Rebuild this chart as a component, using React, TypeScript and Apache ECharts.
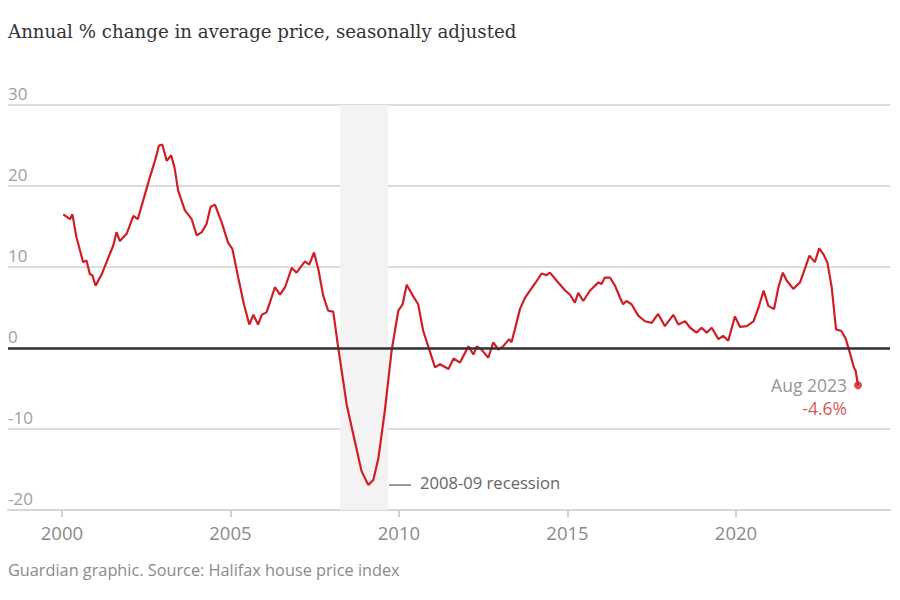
import React, { useEffect, useRef } from "react";
import * as echarts from "echarts";

const years = [
  2000.04, 2000.24, 2000.31, 2000.43, 2000.63, 2000.73, 2000.83, 2000.9, 2001.0, 2001.18,
  2001.42, 2001.52, 2001.62, 2001.72, 2001.92, 2002.12, 2002.25, 2002.41, 2002.61, 2002.76,
  2002.88, 2002.98, 2003.11, 2003.24, 2003.34, 2003.45, 2003.65, 2003.85, 2004.0, 2004.15,
  2004.29, 2004.41, 2004.54, 2004.74, 2004.93, 2005.06, 2005.23, 2005.4, 2005.56, 2005.68,
  2005.82, 2005.93, 2006.07, 2006.17, 2006.32, 2006.47, 2006.62, 2006.82, 2006.96, 2007.21,
  2007.34, 2007.48, 2007.61, 2007.75, 2007.9, 2008.05, 2008.2, 2008.45, 2008.69, 2008.89,
  2009.09, 2009.24, 2009.39, 2009.58, 2009.78, 2009.98, 2010.11, 2010.23, 2010.42, 2010.57,
  2010.72, 2010.87, 2011.07, 2011.22, 2011.47, 2011.62, 2011.81, 2012.06, 2012.21, 2012.31,
  2012.45, 2012.65, 2012.8, 2012.95, 2013.09, 2013.27, 2013.34, 2013.44, 2013.59, 2013.74,
  2013.89, 2014.09, 2014.23, 2014.38, 2014.48, 2014.68, 2014.93, 2015.07, 2015.22, 2015.32,
  2015.47, 2015.67, 2015.82, 2015.92, 2016.01, 2016.11, 2016.26, 2016.41, 2016.56, 2016.65,
  2016.75, 2016.9, 2017.1, 2017.3, 2017.5, 2017.69, 2017.89, 2018.14, 2018.29, 2018.49,
  2018.64, 2018.83, 2018.98, 2019.13, 2019.28, 2019.48, 2019.62, 2019.77, 2019.97, 2020.12,
  2020.32, 2020.52, 2020.67, 2020.82, 2020.96, 2021.13, 2021.26, 2021.39, 2021.51, 2021.7,
  2021.9, 2022.02, 2022.18, 2022.34, 2022.47, 2022.59, 2022.71, 2022.84, 2022.97, 2023.13,
  2023.26, 2023.38, 2023.5, 2023.55, 2023.62,
];

const values = [
  16.5, 15.9, 16.5, 13.7, 10.6, 10.8, 9.1, 9.0, 7.7, 9.1,
  11.6, 12.6, 14.3, 13.2, 14.1, 16.3, 15.9, 18.2, 21.1, 23.1,
  25.0, 25.1, 23.1, 23.8, 22.3, 19.4, 17.0, 15.9, 13.9, 14.3,
  15.3, 17.4, 17.7, 15.5, 13.0, 12.2, 8.7, 5.4, 2.9, 4.1,
  2.9, 4.1, 4.4, 5.6, 7.5, 6.6, 7.5, 9.9, 9.3, 10.7,
  10.3, 11.8, 9.7, 6.5, 4.6, 4.5, 0.0, -7.0, -11.5, -15.2,
  -16.9, -16.3, -13.6, -7.8, -0.4, 4.6, 5.4, 7.8, 6.4, 5.4,
  2.1, 0.2, -2.4, -2.0, -2.6, -1.3, -1.8, 0.2, -0.8, 0.2,
  -0.2, -1.2, 0.7, -0.2, 0.2, 1.1, 0.7, 2.3, 4.8, 6.2,
  7.1, 8.3, 9.2, 9.0, 9.3, 8.3, 7.1, 6.6, 5.6, 6.8,
  5.8, 7.1, 7.7, 8.1, 7.9, 8.7, 8.7, 7.7, 6.2, 5.4,
  5.8, 5.4, 4.0, 3.3, 3.1, 4.2, 2.7, 4.1, 2.9, 3.3,
  2.5, 1.9, 2.5, 1.9, 2.5, 1.1, 1.5, 0.9, 3.9, 2.6,
  2.7, 3.3, 5.0, 7.1, 5.2, 4.8, 7.5, 9.3, 8.3, 7.3,
  8.1, 9.5, 11.4, 10.6, 12.3, 11.6, 10.6, 7.5, 2.3, 2.1,
  1.1, -0.6, -2.4, -2.8, -4.6,
];

const xTickValues = [2000, 2005, 2010, 2015, 2020];
const recession = [2008.25, 2009.68];
const lastLabel = "Aug 2023";
const lastValueLabel = "-4.6%";

const RED = "#cf1f26";
const SANS = "'Open Sans', 'Noto Sans', sans-serif";
const SERIF = "'DejaVu Serif', serif";

export default function App() {
  const ref = useRef<HTMLDivElement>(null);

  useEffect(() => {
    document.body.style.margin = "0";
    if (!ref.current) return;
    const chart = echarts.init(ref.current, null, { renderer: "svg" });
    const data = years.map((y, i) => [y, values[i]]);
    const last = data[data.length - 1];

    chart.setOption({
      animation: false,
      backgroundColor: "#ffffff",
      grid: { left: 8, right: 10, top: 105, bottom: 90, containLabel: false },
      xAxis: {
        type: "value",
        min: 1998.4,
        max: 2024.57,
        splitLine: { show: false },
        axisLine: { show: true, onZero: false, lineStyle: { color: "#d6d6d6", width: 2 } },
        axisTick: {
          show: true,
          customValues: xTickValues,
          length: 7,
          lineStyle: { color: "#d0d0d0", width: 2 },
        },
        axisLabel: {
          customValues: xTickValues,
          color: "#8a8a8a",
          fontSize: 18.5,
          fontFamily: SANS,
          margin: 13,
          formatter: (v: number) => String(v),
        },
      },
      yAxis: {
        type: "value",
        min: -20,
        max: 30,
        interval: 10,
        axisLine: { show: false },
        axisTick: { show: false },
        splitLine: { lineStyle: { color: "#dcdcdc", width: 2 } },
        axisLabel: {
          inside: true,
          margin: 0,
          verticalAlign: "bottom",
          padding: [0, 0, 3, 0],
          color: "#a0a0a0",
          fontSize: 17,
          fontFamily: SANS,
        },
      },
      graphic: [
        {
          type: "text",
          left: 8,
          top: 22,
          style: {
            text: "Annual % change in average price, seasonally adjusted",
            font: `18.2px ${SERIF}`,
            fill: "#333333",
          },
        },
        {
          type: "text",
          left: 8,
          top: 562,
          style: {
            text: "Guardian graphic. Source: Halifax house price index",
            font: `16.3px ${SANS}`,
            fill: "#8a8a8a",
          },
        },
        {
          type: "line",
          shape: { x1: 389, y1: 485, x2: 411, y2: 485 },
          style: { stroke: "#9a9a9a", lineWidth: 2 },
        },
        {
          type: "text",
          left: 420,
          top: 474,
          style: {
            text: "2008-09 recession",
            font: `16.6px ${SANS}`,
            fill: "#666666",
          },
        },
      ],
      series: [
        {
          type: "line",
          data,
          showSymbol: false,
          symbol: "none",
          lineStyle: { color: RED, width: 2.2 },
          z: 3,
          markArea: {
            silent: true,
            itemStyle: { color: "#f3f3f3" },
            data: [[{ xAxis: recession[0] }, { xAxis: recession[1] }]],
          },
          markLine: {
            silent: true,
            symbol: "none",
            label: { show: false },
            lineStyle: { color: "#333333", width: 2.5, type: "solid" },
            data: [{ yAxis: 0 }],
          },
        },
        {
          type: "scatter",
          data: [last],
          symbolSize: 8,
          itemStyle: { color: RED },
          z: 4,
          label: {
            show: true,
            position: "left",
            distance: 7,
            offset: [0, 11],
            formatter: `{a|${lastLabel}}\n{b|${lastValueLabel}}`,
            rich: {
              a: { color: "#777777", fontSize: 17.5, fontFamily: SANS, align: "right", lineHeight: 23 },
              b: { color: RED, fontSize: 17.5, fontFamily: SANS, align: "right", lineHeight: 23 },
            },
          },
        },
      ],
    });

    return () => chart.dispose();
  }, []);

  return <div ref={ref} style={{ width: 900, height: 600 }} />;
}
